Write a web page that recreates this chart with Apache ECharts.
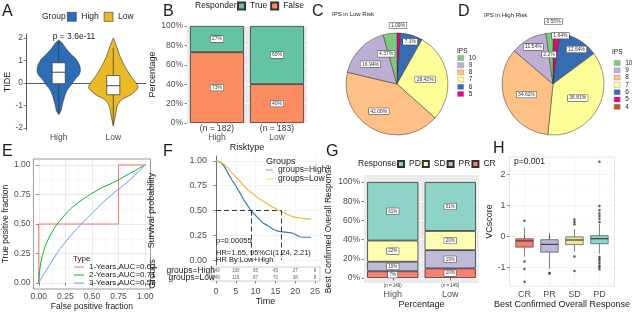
<!DOCTYPE html>
<html>
<head>
<meta charset="utf-8">
<title>TIDE / IPS / ROC / KM / response panels</title>
<script src="https://cdn.jsdelivr.net/npm/echarts@6.0.0/dist/echarts.min.js"></script>
<style>
  html, body { margin: 0; padding: 0; background: #fff; }
  #main { width: 632px; height: 312px; }
</style>
</head>
<body>
<div id="main"></div>
<script>
var FONT = '"Liberation Sans", Arial, sans-serif';
var GRAY30 = '#4D4D4D';
var INK = '#1A1A1A';

// ---- A: TIDE by risk group (violin + box)
var tideGroups = ['High', 'Low'];
var tideColors = ['#2D6DB5', '#E9B927'];
// [TIDE, relative density]
var tideViolinHigh = [[1.9,0],[1.8,0.12],[1.5,0.32],[1.25,0.53],[1.05,0.72],[0.75,0.86],[0.53,0.88],[0.35,0.82],[0.23,0.72],[-0.07,0.52],[-0.37,0.32],[-0.75,0.2],[-1.05,0.13],[-1.25,0.09],[-1.4,0]];
var tideViolinLow = [[2.0,0],[1.65,0.13],[1.2,0.27],[0.75,0.47],[0.3,0.72],[0,0.93],[-0.22,1],[-0.52,0.72],[-0.75,0.33],[-1.05,0.16],[-1.5,0.08],[-1.9,0]];
// [lower whisker, Q1, median, Q3, upper whisker]
var tideBoxHigh = [-1.4, -0.03, 0.48, 0.9, 1.9];
var tideBoxLow = [-1.9, -0.52, -0.12, 0.33, 1.57];

// ---- B: responder share
var riskTypes = ['High', 'Low'];
var riskN = [182, 183];
var responderTrue = [27, 60];
var responderFalse = [73, 40];

// ---- C / D: IPS pies
var ipsLevels = ['4', '5', '6', '7', '8', '9', '10'];
var ipsColors = ['#BF5B17', '#F0027F', '#386CB0', '#FFFF99', '#FDC086', '#BEAED4', '#7FC97F'];
var ipsLowRisk = [0, 1.09, 7.1, 28.42, 42.08, 16.94, 4.37];
var ipsHighRisk = [0.55, 1.64, 12.64, 36.81, 34.62, 11.54, 2.2];
var ipsLegend = ['10', '9', '8', '7', '6', '5', '4'];

// ---- E: time ROC
var rocNames = ['1-Years,AUC=0.62', '2-Years,AUC=0.71', '3-Years,AUC=0.58'];
var roc1 = [[0,0],[0,0.5],[0.75,0.5],[0.75,1],[1,1]];
var roc2 = [[0,0],[0.01,0.12],[0.03,0.22],[0.06,0.31],[0.1,0.39],[0.15,0.47],[0.2,0.53],[0.3,0.63],[0.4,0.7],[0.5,0.76],[0.6,0.81],[0.7,0.85],[0.8,0.9],[0.9,0.95],[1,1]];
var roc3 = [[0,0],[0.05,0.08],[0.1,0.15],[0.2,0.29],[0.3,0.4],[0.4,0.5],[0.5,0.59],[0.6,0.68],[0.7,0.76],[0.8,0.83],[0.9,0.91],[1,1]];

// ---- F: Kaplan-Meier
var kmTimes = [0,1,2,3,4,5,6,7,8,9,10,11,12,13,14,15,16,17,18,19,20,21,22,23,24];
var kmHigh = [1.0,0.99,0.95,0.88,0.81,0.75,0.68,0.61,0.55,0.49,0.45,0.41,0.37,0.35,0.32,0.30,0.29,0.285,0.28,0.275,0.26,0.235,0.23,0.23,0.23];
var kmLow = [1.0,0.99,0.97,0.93,0.88,0.84,0.80,0.75,0.71,0.68,0.645,0.615,0.59,0.565,0.54,0.52,0.50,0.48,0.46,0.445,0.43,0.425,0.42,0.415,0.415];
var kmMedians = [8.8, 16.4];
var riskTimes = [0, 5, 10, 15, 20, 25];
var riskHigh = [149, 100, 65, 45, 27, 6];
var riskLow = [149, 119, 87, 70, 38, 8];

// ---- G: best confirmed overall response
var bestGroups = ['High', 'Low'];
var bestN = [149, 149];
var bestCR = [7, 10];
var bestPR = [10, 19];
var bestSD = [22, 20];
var bestPD = [61, 51];

// ---- H: VCscore by response
var vcCats = ['CR', 'PR', 'SD', 'PD'];
var vcBoxes = [
  [-0.65, -0.35, -0.15, -0.08, 0.28],
  [-1.05, -0.51, -0.26, -0.11, 0.11],
  [-0.5, -0.27, -0.12, -0.02, 0.23],
  [-0.56, -0.24, -0.08, 0.02, 0.4]
];
var vcOutliers = [
  [0.5, -0.81, -1.05, -1.46],
  [-1.18, -1.2],
  [0.54, 0.46, 0.39, -0.65, -1.12],
  [2.4, 0.97, 0.84, 0.73, 0.65, 0.56, 0.46, -0.67, -0.72, -0.78, -0.86, -0.94, -0.99, -1.06]
];

var respColors = {CR: '#FB8072', PR: '#BEBADA', SD: '#FFFFB3', PD: '#8DD3C7'};
var vcColors = ['#F47C70', '#BDB7DA', '#EEE4A0', '#8DD3C7'];

var chart = echarts.init(document.getElementById('main'));

function lbl(extra) {
  return Object.assign({fontSize: 8.5, color: GRAY30, fontFamily: FONT}, extra || {});
}
function nameStyle(extra) {
  return Object.assign({fontSize: 9, color: INK, fontFamily: FONT}, extra || {});
}
var tick = {show: true, length: 2.5, lineStyle: {color: '#333', width: 0.6}};
function tickAt(vals) { return Object.assign({}, tick, {customValues: vals}); }
function txt(x, y, s, size, extra) {
  return {type: 'text', x: x, y: y, z: 100, silent: true,
    style: Object.assign({text: s, fontSize: size, fontFamily: FONT, fill: INK, verticalAlign: 'middle', align: 'left'}, extra || {})};
}
var lineIcon = 'path://M0,0h20v2h-20z';

function violinRender(profile, box, color) {
  return function (params, api) {
    var xv = api.value(0);
    var band = api.size([1, 0])[0];
    var maxHalf = band * 0.45, boxHalf = band * 0.12;
    var right = [], left = [];
    profile.forEach(function (p) {
      var c = api.coord([xv, p[0]]);
      right.push([c[0] + p[1] * maxHalf, c[1]]);
      left.unshift([c[0] - p[1] * maxHalf, c[1]]);
    });
    var cx = api.coord([xv, 0])[0];
    function py(v) { return api.coord([xv, v])[1]; }
    return {type: 'group', children: [
      {type: 'polygon', shape: {points: right.concat(left), smooth: 0.3}, style: {fill: color, stroke: '#333', lineWidth: 0.6}},
      {type: 'line', shape: {x1: cx, y1: py(box[4]), x2: cx, y2: py(box[0])}, style: {stroke: '#333', lineWidth: 0.7}},
      {type: 'rect', shape: {x: cx - boxHalf, y: py(box[3]), width: boxHalf * 2, height: py(box[1]) - py(box[3])}, style: {fill: '#fff', stroke: '#333', lineWidth: 0.7}},
      {type: 'line', shape: {x1: cx - boxHalf, y1: py(box[2]), x2: cx + boxHalf, y2: py(box[2])}, style: {stroke: '#333', lineWidth: 0.9}}
    ]};
  };
}

function vcBoxRender(params, api) {
  var xv = api.value(0);
  var b = vcBoxes[xv - 1];
  var half = api.size([1, 0])[0] * 0.35;
  var cx = api.coord([xv, 0])[0];
  function py(v) { return api.coord([xv, v])[1]; }
  var ln = {stroke: '#333', lineWidth: 0.6};
  return {type: 'group', children: [
    {type: 'line', shape: {x1: cx, y1: py(b[0]), x2: cx, y2: py(b[1])}, style: ln},
    {type: 'line', shape: {x1: cx, y1: py(b[3]), x2: cx, y2: py(b[4])}, style: ln},
    {type: 'rect', shape: {x: cx - half, y: py(b[3]), width: half * 2, height: py(b[1]) - py(b[3])}, style: {fill: vcColors[xv - 1], stroke: '#333', lineWidth: 0.6}},
    {type: 'line', shape: {x1: cx - half, y1: py(b[2]), x2: cx + half, y2: py(b[2])}, style: {stroke: '#333', lineWidth: 1.1}}
  ]};
}

function ipsPie(values) {
  var out = [];
  ipsLevels.forEach(function (lv, i) {
    if (values[i] > 0) out.push({name: lv, value: values[i], itemStyle: {color: ipsColors[i]}});
  });
  return out;
}
var pieLowData = ipsPie(ipsLowRisk);
var pieHighData = ipsPie(ipsHighRisk);
var pieShiftLow = {'5': [0, -30], '6': [5, -15], '10': [-7, -2], '9': [-6, 0], '8': [-5, 2]};
var pieShiftHigh = {'4': [0, -34], '5': [5, -20], '6': [9, -10], '9': [-6, -12], '10': [-2, -1]};
function shiftLayout(data, shifts) {
  return function (p) {
    var s = shifts[data[p.dataIndex].name];
    return s ? {dx: s[0], dy: s[1]} : {};
  };
}
var boxLabel = {show: true, position: 'inside', fontSize: 5, fontFamily: FONT, color: '#333',
  backgroundColor: '#fff', borderColor: '#333', borderWidth: 0.5, padding: [1, 1.5, 0, 1.5]};

function riskRow(name, counts) {
  return riskTimes.map(function (t, i) { return [t, name, counts[i]]; });
}
function pairs(xs, ys) { return xs.map(function (x, i) { return [x, ys[i]]; }); }

var vcOutlierPts = [];
vcOutliers.forEach(function (arr, i) { arr.forEach(function (v) { vcOutlierPts.push([i + 1, v]); }); });

var stackLabel = function (size) {
  return Object.assign({}, boxLabel, {fontSize: size, formatter: '{c}%'});
};

var option = {
  animation: false,
  backgroundColor: '#fff',
  textStyle: {fontFamily: FONT},
  grid: [
    {left: 26, top: 34, width: 120, height: 96},
    {left: 187, top: 26, width: 120, height: 97, show: true, backgroundColor: '#EBEBEB', borderWidth: 0},
    {left: 29.5, top: 159, width: 121, height: 130, show: true, borderColor: '#555', borderWidth: 0.6},
    {left: 211, top: 156, width: 109, height: 109},
    {left: 211, top: 267, width: 109, height: 14, show: true, borderColor: '#999', borderWidth: 0.5},
    {left: 364, top: 175, width: 115, height: 108, show: true, backgroundColor: '#EBEBEB', borderWidth: 0},
    {left: 509.5, top: 157, width: 122.5, height: 129, show: true, borderColor: '#C8C8C8', borderWidth: 0.5}
  ],
  xAxis: [
    // 0: A
    {gridIndex: 0, type: 'value', min: 0.4, max: 2.6,
      axisLine: {show: true, lineStyle: {color: '#333', width: 0.8}},
      axisTick: tickAt([1, 2]),
      axisLabel: lbl({customValues: [1, 2], margin: 3, formatter: function (v) { return tideGroups[v - 1]; }}),
      splitLine: {show: false}},
    // 1: B
    {gridIndex: 1, type: 'category', data: riskTypes,
      axisLine: {show: false}, axisTick: Object.assign({}, tick, {alignWithLabel: true, interval: 0}),
      axisLabel: {margin: 1, interval: 0, formatter: function (v, i) { return '{n|(n = ' + riskN[i] + ')}\n{c|' + v + '}'; },
        rich: {n: {fontSize: 8.5, color: '#333', lineHeight: 9, fontFamily: FONT}, c: {fontSize: 8.5, color: GRAY30, lineHeight: 9, fontFamily: FONT}}},
      name: 'Risktype', nameLocation: 'middle', nameGap: 18.5, nameTextStyle: nameStyle()},
    // 2: E
    {gridIndex: 2, type: 'value', min: -0.05, max: 1.05,
      axisLine: {show: false}, axisTick: tickAt([0, 0.25, 0.5, 0.75, 1]),
      axisLabel: lbl({customValues: [0, 0.25, 0.5, 0.75, 1], margin: 3, formatter: function (v) { return v.toFixed(2); }}),
      splitLine: {show: true, lineStyle: {color: '#E3E3E3', width: 0.7}},
      name: 'False positive fraction', nameLocation: 'middle', nameGap: 11.5, nameTextStyle: nameStyle({fontSize: 8.5})},
    // 3: E minor grid
    {gridIndex: 2, type: 'value', position: 'top', min: -0.05, max: 1.05,
      axisLine: {show: false}, axisTick: {show: false, customValues: [0.125, 0.375, 0.625, 0.875]},
      axisLabel: {show: false}, splitLine: {show: true, lineStyle: {color: '#F0F0F0', width: 0.5}}},
    // 4: F curves
    {gridIndex: 3, type: 'value', min: -1.25, max: 26.25,
      axisLine: {show: false}, axisTick: {show: false, customValues: [0, 5, 10, 15, 20, 25]},
      axisLabel: {show: false},
      splitLine: {show: true, lineStyle: {color: '#EDEDED', width: 0.6}}},
    // 5: F risk table
    {gridIndex: 4, type: 'value', min: -1.25, max: 26.25,
      axisLine: {show: false}, axisTick: tickAt([0, 5, 10, 15, 20, 25]),
      axisLabel: lbl({customValues: [0, 5, 10, 15, 20, 25], margin: 6, fontSize: 9}),
      splitLine: {show: false},
      name: 'Time', nameLocation: 'middle', nameGap: 16.5, nameTextStyle: nameStyle()},
    // 6: G
    {gridIndex: 5, type: 'category', data: bestGroups,
      axisLine: {show: false}, axisTick: Object.assign({}, tick, {alignWithLabel: true, interval: 0}),
      axisLabel: {margin: 0, interval: 0, formatter: function (v, i) { return '{n|(n = ' + bestN[i] + ')}\n{c|' + v + '}'; },
        rich: {n: {fontSize: 4.5, color: '#333', lineHeight: 5, fontFamily: FONT}, c: {fontSize: 9, color: GRAY30, lineHeight: 14, fontFamily: FONT}}},
      name: 'Percentage', nameLocation: 'middle', nameGap: 16, nameTextStyle: nameStyle()},
    // 7: H
    {gridIndex: 6, type: 'value', min: 0.4, max: 4.6,
      axisLine: {show: false}, axisTick: tickAt([1, 2, 3, 4]),
      axisLabel: lbl({customValues: [1, 2, 3, 4], margin: 4, fontSize: 9, formatter: function (v) { return vcCats[v - 1]; }}),
      splitLine: {show: true, lineStyle: {color: '#EBEBEB', width: 0.6}},
      name: 'Best Confirmed Overall Response', nameLocation: 'middle', nameGap: 14, nameTextStyle: nameStyle()}
  ],
  yAxis: [
    // 0: A
    {gridIndex: 0, type: 'value', min: -2.09, max: 2.18,
      axisLine: {show: true, lineStyle: {color: '#333', width: 0.8}},
      axisTick: tickAt([-2, -1, 0, 1, 2]),
      axisLabel: lbl({customValues: [-2, -1, 0, 1, 2], margin: 3}),
      splitLine: {show: false},
      name: 'TIDE', nameLocation: 'middle', nameRotate: 90, nameGap: 14, nameTextStyle: nameStyle()},
    // 1: B
    {gridIndex: 1, type: 'value', min: 0, max: 100, interval: 20,
      axisLine: {show: false}, axisTick: tick,
      axisLabel: lbl({formatter: '{value}%', margin: 4}),
      splitLine: {show: true, lineStyle: {color: '#fff', width: 0.9}},
      minorTick: {show: false, splitNumber: 2},
      minorSplitLine: {show: true, lineStyle: {color: '#F7F7F7', width: 0.5}},
      name: 'Percentage', nameLocation: 'middle', nameRotate: 90, nameGap: 27.5, nameTextStyle: nameStyle()},
    // 2: E
    {gridIndex: 2, type: 'value', min: -0.05, max: 1.05,
      axisLine: {show: false}, axisTick: tickAt([0, 0.25, 0.5, 0.75, 1]),
      axisLabel: lbl({customValues: [0, 0.25, 0.5, 0.75, 1], margin: 3, formatter: function (v) { return v.toFixed(2); }}),
      splitLine: {show: true, lineStyle: {color: '#E3E3E3', width: 0.7}},
      name: 'True positive fraction', nameLocation: 'middle', nameRotate: 90, nameGap: 18, nameTextStyle: nameStyle({fontSize: 8.5})},
    // 3: E minor grid
    {gridIndex: 2, type: 'value', position: 'right', min: -0.05, max: 1.05,
      axisLine: {show: false}, axisTick: {show: false, customValues: [0.125, 0.375, 0.625, 0.875]},
      axisLabel: {show: false}, splitLine: {show: true, lineStyle: {color: '#F0F0F0', width: 0.5}}},
    // 4: F curves
    {gridIndex: 3, type: 'value', min: -0.05, max: 1.05,
      axisLine: {show: true, lineStyle: {color: '#333', width: 0.7}},
      axisTick: tickAt([0, 0.25, 0.5, 0.75, 1]),
      axisLabel: lbl({customValues: [0, 0.25, 0.5, 0.75, 1], margin: 4, fontSize: 9, formatter: function (v) { return v.toFixed(2); }}),
      splitLine: {show: true, lineStyle: {color: '#EDEDED', width: 0.6}},
      name: 'Survival probability', nameLocation: 'middle', nameRotate: 90, nameGap: 54.5, nameTextStyle: nameStyle()},
    // 5: F risk table
    {gridIndex: 4, type: 'category', data: ['groups=Low', 'groups=High'],
      axisLine: {show: false}, axisTick: {show: false},
      axisLabel: {margin: -4, interval: 0, fontSize: 8.5, color: INK, fontFamily: FONT},
      name: 'Groups', nameLocation: 'middle', nameRotate: 90, nameGap: 53.5, nameTextStyle: nameStyle()},
    // 6: G
    {gridIndex: 5, type: 'value', min: -5.2, max: 107.3,
      axisLine: {show: false}, axisTick: tickAt([0, 20, 40, 60, 80, 100]),
      axisLabel: lbl({customValues: [0, 20, 40, 60, 80, 100], margin: 4, formatter: function (v) { return v + '%'; }}),
      splitLine: {show: true, lineStyle: {color: '#fff', width: 0.9}},
      name: 'Best Confirmed Overall Response', nameLocation: 'middle', nameRotate: 90, nameGap: 30.5, nameTextStyle: nameStyle({fontSize: 8.5})},
    // 7: G minor grid
    {gridIndex: 5, type: 'value', position: 'right', min: -5.2, max: 107.3,
      axisLine: {show: false}, axisTick: {show: false, customValues: [10, 30, 50, 70, 90]},
      axisLabel: {show: false}, splitLine: {show: true, lineStyle: {color: '#F7F7F7', width: 0.5}}},
    // 8: H
    {gridIndex: 6, type: 'value', min: -1.6, max: 2.55,
      axisLine: {show: false}, axisTick: tickAt([-1, 0, 1, 2]),
      axisLabel: lbl({customValues: [-1, 0, 1, 2], margin: 4, fontSize: 9}),
      splitLine: {show: true, lineStyle: {color: '#EBEBEB', width: 0.6}},
      name: 'VCscore', nameLocation: 'middle', nameRotate: 90, nameGap: 10, nameTextStyle: nameStyle()},
    // 9: H minor grid
    {gridIndex: 6, type: 'value', position: 'right', min: -1.6, max: 2.55,
      axisLine: {show: false}, axisTick: {show: false, customValues: [-1.5, -0.5, 0.5, 1.5, 2.5]},
      axisLabel: {show: false}, splitLine: {show: true, lineStyle: {color: '#F5F5F5', width: 0.5}}}
  ],
  legend: [
    {data: ['High', 'Low'], left: 67, top: 12, padding: 0, icon: 'rect', itemWidth: 9, itemHeight: 9, itemGap: 5,
      selectedMode: false, textStyle: {fontSize: 8.5, color: INK, fontFamily: FONT}, itemStyle: {borderColor: '#333', borderWidth: 0.6}},
    {data: ['True', 'False'], left: 237, top: 1.5, padding: 0, icon: 'rect', itemWidth: 7, itemHeight: 7, itemGap: 3,
      selectedMode: false, textStyle: {fontSize: 8.5, color: INK, fontFamily: FONT}},
    {data: ipsLegend.slice(0, 6), orient: 'vertical', left: 457.5, top: 54.5, padding: 0, icon: 'rect', itemWidth: 6, itemHeight: 5, itemGap: 0.2,
      selectedMode: false, textStyle: {fontSize: 6.5, lineHeight: 5, color: INK, fontFamily: FONT}, itemStyle: {borderColor: '#666', borderWidth: 0.3}},
    {data: ipsLegend, orient: 'vertical', left: 614, top: 59.5, padding: 0, icon: 'rect', itemWidth: 6, itemHeight: 5, itemGap: 0.3,
      selectedMode: false, textStyle: {fontSize: 6.5, lineHeight: 5, color: INK, fontFamily: FONT}, itemStyle: {borderColor: '#666', borderWidth: 0.3}},
    {data: rocNames, orient: 'vertical', left: 74, top: 263, padding: 0, icon: lineIcon, itemWidth: 10, itemHeight: 7, itemGap: 0,
      selectedMode: false, textStyle: {fontSize: 8, lineHeight: 7, color: INK, fontFamily: FONT}},
    {data: ['groups=High', 'groups=Low'], orient: 'vertical', left: 266, top: 165.5, padding: 0, icon: lineIcon, itemWidth: 7, itemHeight: 6.5, itemGap: 0,
      selectedMode: false, textStyle: {fontSize: 8.5, lineHeight: 6.5, color: INK, fontFamily: FONT}},
    {data: ['PD', 'SD', 'PR', 'CR'], left: 397, top: 159.5, padding: 0, icon: 'rect', itemWidth: 6, itemHeight: 6, itemGap: 1,
      selectedMode: false, textStyle: {fontSize: 8.5, color: INK, fontFamily: FONT}}
  ],
  graphic: [
    txt(2, 4, 'A', 16, {verticalAlign: 'top'}),
    txt(163, 4, 'B', 16, {verticalAlign: 'top'}),
    txt(312, 4, 'C', 16, {verticalAlign: 'top'}),
    txt(458, 4, 'D', 16, {verticalAlign: 'top'}),
    txt(2, 144, 'E', 16, {verticalAlign: 'top'}),
    txt(163, 144, 'F', 16, {verticalAlign: 'top'}),
    txt(326, 144, 'G', 16, {verticalAlign: 'top'}),
    txt(493, 141, 'H', 16, {verticalAlign: 'top'}),
    txt(42, 16.5, 'Group', 8.5),
    txt(74, 37, 'p = 3.6e-11', 8.5, {align: 'center'}),
    txt(195, 6, 'Responder', 8.5),
    txt(332, 14, 'IPS in Low Risk', 6),
    txt(484, 15, 'IPS in High Risk', 6),
    txt(457, 51, 'IPS', 6.5),
    txt(612, 52, 'IPS', 6.5),
    txt(73, 259, 'Type', 8),
    txt(266, 162, 'Groups', 9),
    txt(216, 241, 'p=0.00055', 7.5),
    txt(216, 252.5, 'HR=1.65, 95%CI(1.24, 2.21)', 7.5),
    txt(216, 260, 'HR By:Low+High', 7.5),
    txt(358, 164, 'Response', 8.5),
    txt(514, 162, 'p=0.001', 8.5)
  ],
  series: [
    // A
    {type: 'custom', name: 'High', xAxisIndex: 0, yAxisIndex: 0, data: [[1, 0]], encode: {x: 0, y: 1}, clip: false,
      itemStyle: {color: tideColors[0]}, renderItem: violinRender(tideViolinHigh, tideBoxHigh, tideColors[0])},
    {type: 'custom', name: 'Low', xAxisIndex: 0, yAxisIndex: 0, data: [[2, 0]], encode: {x: 0, y: 1}, clip: false,
      itemStyle: {color: tideColors[1]}, renderItem: violinRender(tideViolinLow, tideBoxLow, tideColors[1])},
    // B
    {type: 'bar', name: 'False', xAxisIndex: 1, yAxisIndex: 1, stack: 'resp', data: responderFalse, barCategoryGap: '10%',
      itemStyle: {color: '#FC8D62', borderColor: '#333', borderWidth: 0.8}, label: stackLabel(5)},
    {type: 'bar', name: 'True', xAxisIndex: 1, yAxisIndex: 1, stack: 'resp', data: responderTrue, barCategoryGap: '10%',
      itemStyle: {color: '#66C2A5', borderColor: '#333', borderWidth: 0.8}, label: stackLabel(5)},
    // C
    {type: 'pie', name: 'IPS low', center: [397, 84], radius: 51, startAngle: 90, clockwise: true, avoidLabelOverlap: false,
      data: pieLowData, itemStyle: {borderColor: '#333', borderWidth: 0.5},
      label: Object.assign({}, boxLabel, {formatter: '{c}%'}), labelLine: {show: false},
      labelLayout: shiftLayout(pieLowData, pieShiftLow)},
    // D
    {type: 'pie', name: 'IPS high', center: [553, 84], radius: 51, startAngle: 90, clockwise: true, avoidLabelOverlap: false,
      data: pieHighData, itemStyle: {borderColor: '#333', borderWidth: 0.5},
      label: Object.assign({}, boxLabel, {formatter: '{c}%'}), labelLine: {show: false},
      labelLayout: shiftLayout(pieHighData, pieShiftHigh)},
    // E
    {type: 'line', name: rocNames[0], xAxisIndex: 2, yAxisIndex: 2, data: roc1, symbol: 'none', lineStyle: {color: '#F8766D', width: 1}, itemStyle: {color: '#F8766D'}},
    {type: 'line', name: rocNames[1], xAxisIndex: 2, yAxisIndex: 2, data: roc2, symbol: 'none', smooth: 0.3, lineStyle: {color: '#00BA38', width: 1}, itemStyle: {color: '#00BA38'}},
    {type: 'line', name: rocNames[2], xAxisIndex: 2, yAxisIndex: 2, data: roc3, symbol: 'none', smooth: 0.3, lineStyle: {color: '#619CFF', width: 1}, itemStyle: {color: '#619CFF'}},
    // F
    {type: 'line', name: 'groups=High', xAxisIndex: 4, yAxisIndex: 4, data: pairs(kmTimes, kmHigh), symbol: 'none',
      lineStyle: {color: '#3A7CC1', width: 1.2}, itemStyle: {color: '#3A7CC1'},
      markLine: {silent: true, symbol: 'none', label: {show: false}, lineStyle: {color: '#333', type: [5, 3], width: 1},
        data: [
          [{coord: [0, 0.5]}, {coord: [kmMedians[1], 0.5]}],
          [{coord: [kmMedians[0], 0.5]}, {coord: [kmMedians[0], 0]}],
          [{coord: [kmMedians[1], 0.5]}, {coord: [kmMedians[1], 0]}]
        ]}},
    {type: 'line', name: 'groups=Low', xAxisIndex: 4, yAxisIndex: 4, data: pairs(kmTimes, kmLow), symbol: 'none',
      lineStyle: {color: '#E8BF2A', width: 1.2}, itemStyle: {color: '#E8BF2A'}},
    {type: 'scatter', name: 'risk table', xAxisIndex: 5, yAxisIndex: 5, symbolSize: 1,
      data: riskRow('groups=High', riskHigh).concat(riskRow('groups=Low', riskLow)),
      itemStyle: {color: 'transparent'},
      label: {show: true, position: 'inside', fontSize: 4.5, color: '#333', fontFamily: FONT, formatter: function (p) { return p.value[2]; }}},
    // G
    {type: 'bar', name: 'CR', xAxisIndex: 6, yAxisIndex: 6, stack: 'best', data: bestCR, barCategoryGap: '11%',
      itemStyle: {color: respColors.CR, borderColor: '#333', borderWidth: 0.8}, label: stackLabel(4.5)},
    {type: 'bar', name: 'PR', xAxisIndex: 6, yAxisIndex: 6, stack: 'best', data: bestPR, barCategoryGap: '11%',
      itemStyle: {color: respColors.PR, borderColor: '#333', borderWidth: 0.8}, label: stackLabel(4.5)},
    {type: 'bar', name: 'SD', xAxisIndex: 6, yAxisIndex: 6, stack: 'best', data: bestSD, barCategoryGap: '11%',
      itemStyle: {color: respColors.SD, borderColor: '#333', borderWidth: 0.8}, label: stackLabel(4.5)},
    {type: 'bar', name: 'PD', xAxisIndex: 6, yAxisIndex: 6, stack: 'best', data: bestPD, barCategoryGap: '11%',
      itemStyle: {color: respColors.PD, borderColor: '#333', borderWidth: 0.8}, label: stackLabel(4.5)},
    // H
    {type: 'custom', name: 'VCscore', xAxisIndex: 7, yAxisIndex: 8, data: [[1, 0], [2, 0], [3, 0], [4, 0]], encode: {x: 0, y: 1},
      renderItem: vcBoxRender},
    {type: 'scatter', name: 'outliers', xAxisIndex: 7, yAxisIndex: 8, data: vcOutlierPts, symbolSize: 2.5,
      itemStyle: {color: '#333'}}
  ]
};

chart.setOption(option);
</script>
</body>
</html>
